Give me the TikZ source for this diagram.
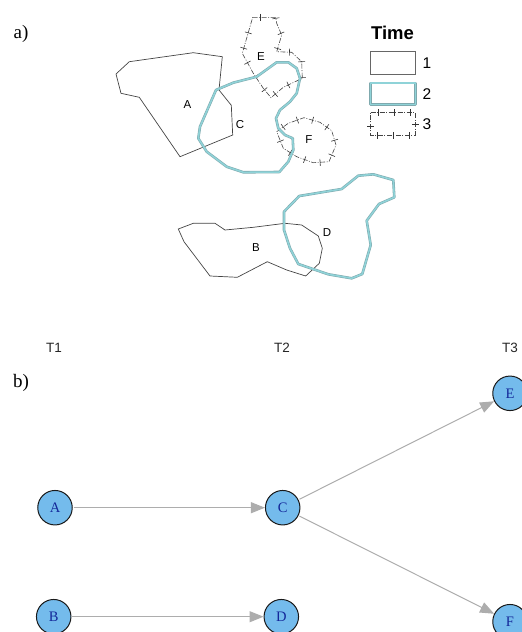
\documentclass[tikz,border=0pt]{standalone}
\usepackage{fontspec}
\setmainfont{Liberation Serif}
\newfontfamily\arialf{Liberation Sans}
\usetikzlibrary{arrows.meta,decorations.markings}
\definecolor{tealc}{HTML}{8FD3D8}
\definecolor{tealedge}{HTML}{7FA9AE}
\definecolor{nodefill}{HTML}{74BBEC}
\definecolor{nodetext}{HTML}{14289A}
\definecolor{edgec}{HTML}{ADADAD}
\definecolor{lineg}{HTML}{444444}
\tikzset{
  x=1pt,y=-1pt,
  time one/.style={draw=lineg,line width=0.7pt},
  time two/.style={draw=tealedge,line width=2.6pt,line join=round,postaction={draw=tealc,line width=1.5pt}},
  time three/.style={draw=lineg,line width=0.6pt,dash pattern=on 5pt off 1.5pt on 1pt off 1.5pt,
    postaction={decorate,decoration={markings,mark=between positions 8pt and -2pt step 16pt with {\draw[solid,line width=0.6pt,draw=black!80] (0,-3.5)--(0,3.5);}}}},
  maplabel/.style={font=\arialf\fontsize{11.5}{11.5}\selectfont,inner sep=0pt},
  timelabel/.style={font=\arialf\fontsize{13.5}{13.5}\selectfont,inner sep=0pt,text=black!85},
  panel/.style={font=\fontsize{19}{19}\selectfont,inner sep=0pt},
  legendnum/.style={font=\arialf\fontsize{15.5}{15.5}\selectfont,inner sep=0pt},
  vertex/.style={circle,draw=black!90,line width=1pt,fill=nodefill,minimum size=34.5pt,inner sep=0pt,text=nodetext,font=\fontsize{14.5}{14.5}\selectfont},
  edge/.style={draw=edgec,line width=1pt,-{Triangle[length=14pt,width=11pt,fill=edgec]},shorten <=1pt,shorten >=0pt},
}
\begin{document}
\begin{tikzpicture}
\useasboundingbox (0,0) rectangle (522,632);
\clip (0,0) rectangle (522,632);
% time 1
\draw[time one] (116,74)--(129.3,61.7)--(193.3,52.7)--(222.3,56.7)--(219,90)--(231.3,105.3)--(232.7,135)--(180,156.7)--(139.3,97.3)--(121,93.3)--cycle;
\draw[time one] (178.3,229)--(193.3,223.3)--(215,223.3)--(225,230)--(253.3,227.3)--(285,223.3)--(301.7,225)--(318.3,236)--(322.3,248.3)--(319.3,263.3)--(305.7,276)--(286.7,270)--(267.3,261.7)--(237.3,277.3)--(210,276)--(184,241.7)--cycle;
% time 3
\draw[time three] (252.7,17.3)--(275.7,17.3)--(276.7,23.3)--(281.7,35)--(276.7,51.7)--(291.7,52.3)--(301.7,61.7)--(302.3,78.3)--(283.3,87.3)--(271,97.7)--(263.3,88.3)--(253.3,73.3)--(242.3,53.3)--cycle;
\draw[time three] (276.7,131.7)--(288.3,123.3)--(304,117.7)--(320,122.3)--(331.7,130.7)--(336,145)--(329,161.7)--(313.3,162.7)--(296.7,156.7)--(283.3,148.3)--cycle;
% time 2
\draw[time two] (216,90)--(233.3,82.7)--(256.7,76.7)--(276.7,62.3)--(288.3,62.3)--(296.7,68.3)--(300,78.3)--(296.7,93.3)--(290,101.7)--(280,110)--(276,118.3)--(278.3,128.3)--(285,135)--(292.7,138.3)--(293.3,150)--(288.3,161.7)--(279.3,172)--(243.3,172.3)--(226.7,166.7)--(206.7,151.7)--(198.3,138.3)--(200,126.7)--cycle;
\draw[time two] (284,211.7)--(299.3,196)--(341.7,189)--(358.3,175.7)--(373.3,174.3)--(393.3,180)--(394.3,197.3)--(379,204)--(366.7,220.7)--(370.7,245)--(362.3,274)--(351.7,278.3)--(328.3,274.3)--(298.3,264)--(290,248.3)--(284,230)--cycle;
% map labels
\node[maplabel] (la) at (187.5,105) {A};
\node[maplabel] (lc) at (240,125) {C};
\node[maplabel] (le) at (261,57) {E};
\node[maplabel] (lf) at (309,140) {F};
\node[maplabel] (lb) at (256,248) {B};
\node[maplabel] (ld) at (327,233) {D};
% legend
\node[inner sep=0pt,font=\arialf\bfseries\fontsize{18.5}{18.5}\selectfont] (ltitle) at (392.5,33) {Time};
\draw[time one,draw=gray!80!black,line width=0.9pt] (370,51.7) rectangle (415.3,74.3);
\draw[time two] (370.5,82.8) rectangle (415.5,104.5);
\draw[time three] (370.7,112.7)--(415,112.7)--(415,135)--(370.7,135)--cycle;
\node[legendnum] (l1) at (427,63) {1};
\node[legendnum] (l2) at (427,94) {2};
\node[legendnum] (l3) at (427,124) {3};
% panel labels
\node[panel] (pa) at (21,34) {a)};
\node[panel] (pb) at (21,383) {b)};
\node[timelabel] (t1) at (54,348) {T1};
\node[timelabel] (t2) at (282,348) {T2};
\node[timelabel] (t3) at (510,348) {T3};
% graph
\node[vertex] (A) at (55,507.7) {A};
\node[vertex] (B) at (53.7,616.7) {B};
\node[vertex] (C) at (282.7,507.7) {C};
\node[vertex] (D) at (281.3,616.7) {D};
\node[vertex] (E) at (510,393.3) {E};
\node[vertex] (F) at (510,621.7) {F};
\draw[edge] (A)--(C);
\draw[edge] (B)--(D);
\draw[edge] (C)--(E);
\draw[edge] (C)--(F);
\end{tikzpicture}
\end{document}
